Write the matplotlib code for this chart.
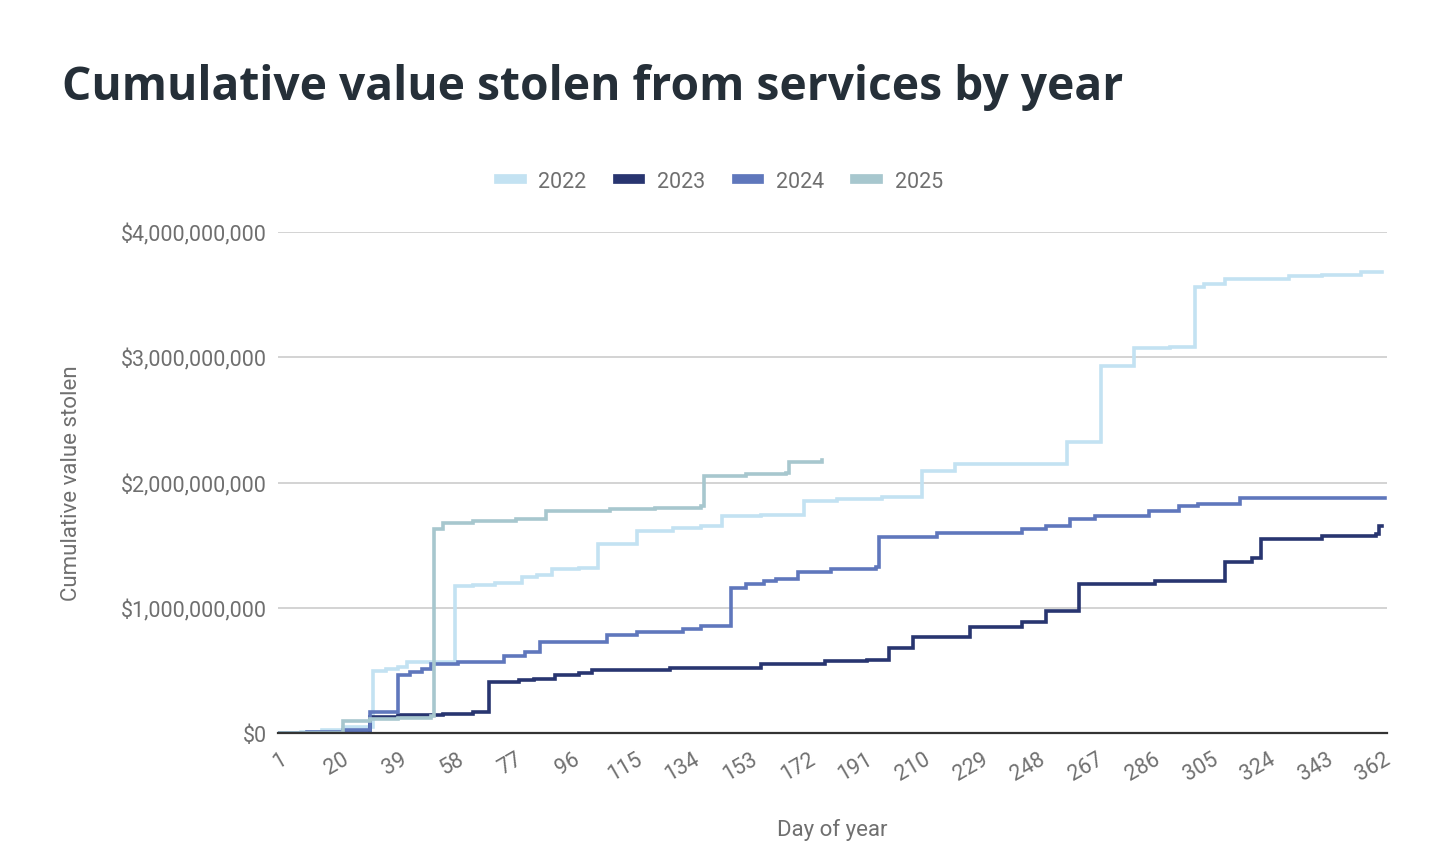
import matplotlib
matplotlib.use("Agg")
import matplotlib.pyplot as plt
from matplotlib.ticker import FuncFormatter

# step change points: (day of year, cumulative USD billions)
days_2022 = [1, 8, 15, 22, 32, 36, 40, 43, 59, 65, 72, 81, 86, 91, 100, 106, 119, 131, 140, 147,
             160, 174, 185, 200, 213, 224, 261, 272, 283, 295, 303, 306, 313, 334, 345, 358, 365]
vals_2022 = [0, 0.01, 0.025, 0.05, 0.495, 0.51, 0.53, 0.567, 1.17, 1.18, 1.20, 1.245, 1.26, 1.31, 1.32, 1.51, 1.61, 1.64, 1.65, 1.73,
             1.74, 1.85, 1.87, 1.885, 2.09, 2.15, 2.32, 2.93, 3.07, 3.08, 3.56, 3.585, 3.625, 3.65, 3.66, 3.68, 3.68]

days_2023 = [1, 31, 40, 55, 65, 70, 80, 85, 92, 100, 104, 130, 160, 181, 195, 202, 210, 229, 246, 254,
             265, 290, 313, 322, 325, 345, 363, 364, 365]
vals_2023 = [0, 0.125, 0.14, 0.15, 0.165, 0.41, 0.42, 0.43, 0.46, 0.48, 0.505, 0.52, 0.55, 0.575, 0.58, 0.68, 0.77, 0.845, 0.885, 0.975,
             1.19, 1.21, 1.365, 1.40, 1.55, 1.57, 1.585, 1.65, 1.65]

days_2024 = [1, 10, 22, 31, 40, 44, 48, 51, 60, 75, 82, 87, 109, 119, 134, 140, 150, 155, 161, 165,
             172, 183, 198, 199, 218, 246, 254, 262, 270, 288, 298, 304, 318, 366]
vals_2024 = [0, 0.01, 0.02, 0.165, 0.46, 0.49, 0.51, 0.55, 0.565, 0.615, 0.645, 0.725, 0.78, 0.805, 0.83, 0.855, 1.16, 1.19, 1.215, 1.23,
             1.285, 1.31, 1.325, 1.565, 1.595, 1.63, 1.655, 1.71, 1.73, 1.775, 1.815, 1.83, 1.875, 1.88]

days_2025 = [1, 22, 31, 40, 51, 52, 55, 65, 79, 89, 110, 125, 140, 141, 155, 168, 169, 180]
vals_2025 = [0, 0.095, 0.11, 0.12, 0.135, 1.63, 1.68, 1.69, 1.71, 1.775, 1.79, 1.80, 1.81, 2.05, 2.065, 2.075, 2.165, 2.18]

series = [
    ("2022", days_2022, vals_2022, "#c3e2f2"),
    ("2023", days_2023, vals_2023, "#283570"),
    ("2024", days_2024, vals_2024, "#5f77bc"),
    ("2025", days_2025, vals_2025, "#a7c7ce"),
]

x_ticks = list(range(1, 363, 19))
y_ticks = [0, 1e9, 2e9, 3e9, 4e9]

FONT = "Roboto"
GREY = "#6f6f6f"

fig = plt.figure(figsize=(14.46, 8.62), dpi=100)
ax = fig.add_axes([278/1446, 1-734/862, 1109/1446, 501/862])

for name, d, v, col in series:
    ax.plot(d, [i*1e9 for i in v], drawstyle="steps-post", color=col, lw=2.6, label=name,
            solid_joinstyle="miter")

ax.set_xlim(0.5, 366.5)
ax.set_ylim(0, 4e9)
ax.set_xticks(x_ticks)
ax.set_yticks(y_ticks)
ax.yaxis.set_major_formatter(FuncFormatter(lambda v, p: "${:,.0f}".format(v)))
ax.grid(axis="y", color="#cccccc", lw=1.2)
ax.set_axisbelow(True)
for s in ("top", "right", "left"):
    ax.spines[s].set_visible(False)
ax.spines["bottom"].set_color("#333333")
ax.spines["bottom"].set_linewidth(1.6)
ax.spines["bottom"].set_zorder(5)
ax.tick_params(axis="both", length=0, labelcolor=GREY, labelsize=15.5)
ax.tick_params(axis="y", pad=8)
ax.tick_params(axis="x", pad=11)
for lab in ax.get_xticklabels():
    lab.set_rotation(30)
    lab.set_ha("center")
    lab.set_family(FONT)
for lab in ax.get_yticklabels():
    lab.set_family(FONT)

ax.set_xlabel("Day of year", family=FONT, fontsize=16, color=GREY, labelpad=24)
ax.set_ylabel("Cumulative value stolen", family=FONT, fontsize=16, color=GREY)
ax.yaxis.set_label_coords(-0.177, 0.5)

fig.text(62/1446, 1-100/862, "Cumulative value stolen from services by year", family="Open Sans",
         fontweight="bold", fontsize=33.2, color="#252f38", va="baseline")

leg = fig.legend(loc="center", bbox_to_anchor=(721/1446, 1-182/862), ncol=4, frameon=False,
                 handlelength=1.05, handletextpad=0.78, columnspacing=1.45,
                 prop={"family": FONT, "size": 15.5})
for h in leg.legend_handles:
    h.set_linewidth(7)
for t in leg.get_texts():
    t.set_color(GREY)

fig.savefig("out.png", dpi=100)
